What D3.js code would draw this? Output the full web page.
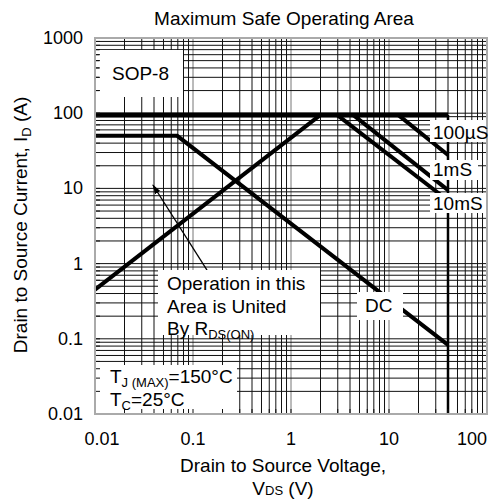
<!DOCTYPE html>
<html>
<head>
<meta charset="utf-8">
<script src="https://cdn.jsdelivr.net/npm/d3@7"></script>
<style>
body{margin:0;background:#fff;}
text{font-family:"Liberation Sans",Arial,sans-serif;fill:#000;}
</style>
</head>
<body>
<div id="chart"></div>
<script>
// tick values
let xTicks=[0.01,0.1,1,10,100];
let yTicks=[0.01,0.1,1,10,100,1000];

// limit curves (V, A)
let topV=[0.01,40];
let topI=[95,95];
let vmaxV=[40,40];
let vmaxI=[95,0.01];
let dcV=[0.01,0.069,40];
let dcI=[50,50,0.083];
let rdsV=[0.01,2.0];
let rdsI=[0.45,95];
let us100V=[12.4,40];
let us100I=[95,27.8];
let ms1V=[4.3,40];
let ms1I=[95,9.5];
let ms10V=[2.95,40];
let ms10I=[95,6.9];

// arrow: tail then head
let arrowV=[0.139,0.039];
let arrowI=[0.82,11.1];

let width=497, height=501;
let padL=95, padT=38, pw=392, ph=376;

let svg=d3.select("#chart").append("svg")
  .attr("width",width).attr("height",height);

let x=d3.scaleLog().domain([0.01,100]).range([0,pw]);
let y=d3.scaleLog().domain([0.01,1000]).range([ph,0]);

let g=svg.append("g").attr("transform","translate("+padL+","+padT+")");

// grid, 1..9 in every decade
let gx=[], gy=[];
for(let d=-2;d<2;d++) for(let k=1;k<10;k++) gx.push(k*Math.pow(10,d));
for(let d=-2;d<3;d++) for(let k=1;k<10;k++) gy.push(k*Math.pow(10,d));

g.selectAll(".vg").data(gx).enter().append("line")
  .attr("x1",d=>x(d)).attr("x2",d=>x(d))
  .attr("y1",0).attr("y2",ph)
  .attr("stroke",(d,i)=>i%9==0?"#777":"#111").attr("stroke-width",1);
g.selectAll(".hg").data(gy).enter().append("line")
  .attr("y1",d=>y(d)).attr("y2",d=>y(d))
  .attr("x1",0).attr("x2",pw)
  .attr("stroke","#111").attr("stroke-width",1);

let line=d3.line().x(d=>x(d[0])).y(d=>y(d[1]));
function curve(vs,is,w){
  g.append("path").datum(vs.map((v,i)=>[v,is[i]]))
    .attr("d",line).attr("fill","none")
    .attr("stroke","#000").attr("stroke-width",w);
}
curve(vmaxV,vmaxI,2.5);
curve(topV,topI,5);
curve(dcV,dcI,4);
curve(rdsV,rdsI,4);
curve(us100V,us100I,4);
curve(ms1V,ms1I,4);
curve(ms10V,ms10I,4);

// arrow
svg.append("defs").append("marker")
  .attr("id","ah").attr("viewBox","0 0 10 10")
  .attr("refX",9).attr("refY",5)
  .attr("markerWidth",10).attr("markerHeight",10)
  .attr("markerUnits","userSpaceOnUse")
  .attr("orient","auto")
  .append("path").attr("d","M0,2 L10,5 L0,8 Z").attr("fill","#000");
g.append("line")
  .attr("x1",x(arrowV[0])).attr("y1",y(arrowI[0]))
  .attr("x2",x(arrowV[1])).attr("y2",y(arrowI[1]))
  .attr("stroke","#000").attr("stroke-width",1.3)
  .attr("marker-end","url(#ah)");

// white label boxes (plot coords)
let boxes=[[4,12,84,47],[63,232,162,65],[262,254,46,28],[-1,327,143,50],
  [335,82,60,22],[335,122,48,20],[335,155,60,20]];
g.selectAll(".box").data(boxes).enter().append("rect")
  .attr("x",d=>d[0]).attr("y",d=>d[1])
  .attr("width",d=>d[2]).attr("height",d=>d[3])
  .attr("fill","#fff");

// small inner ticks on left and bottom
g.selectAll(".tb").data(gx).enter().append("line")
  .attr("x1",d=>x(d)).attr("x2",d=>x(d))
  .attr("y1",ph).attr("y2",ph-5)
  .attr("stroke","#111");
g.selectAll(".tl").data(gy).enter().append("line")
  .attr("y1",d=>y(d)).attr("y2",d=>y(d))
  .attr("x1",0).attr("x2",5)
  .attr("stroke","#111");

// frame
g.append("rect").attr("width",pw).attr("height",ph)
  .attr("fill","none").attr("stroke","#aaa").attr("stroke-width",2);

// labels inside plot
function lbl(t,px,py){
  return g.append("text").attr("x",px).attr("y",py)
    .style("font-size","19px").text(t);
}
lbl("SOP-8",17,42);
lbl("Operation in this",72,252);
lbl("Area is United",72,275);
let r=lbl("By R",72,297);
r.append("tspan").attr("dy",4).style("font-size","13px").text("DS(ON)");
lbl("DC",270,274);
let tj=lbl("T",15,345);
tj.append("tspan").attr("dy",4).style("font-size","13px").text("J (MAX)");
tj.append("tspan").attr("dy",-4).text("=150°C");
let tc=lbl("T",15,368);
tc.append("tspan").attr("dy",4).style("font-size","13px").text("C");
tc.append("tspan").attr("dy",-4).text("=25°C");
lbl("100µS",338,101);
lbl("1mS",338,138);
lbl("10mS",338,172);

// tick labels
g.selectAll(".xl").data(xTicks).enter().append("text")
  .attr("x",(d,i)=>x(d)+(i==0?7:0)).attr("y",ph+31)
  .attr("text-anchor",(d,i)=>i==xTicks.length-1?"end":"middle")
  .style("font-size","18px")
  .text(d=>d);
g.selectAll(".yl").data(yTicks).enter().append("text")
  .attr("x",-12).attr("y",d=>y(d)+6)
  .attr("text-anchor","end")
  .style("font-size","18px")
  .text(d=>d);

// titles
svg.append("text").attr("x",284).attr("y",25)
  .attr("text-anchor","middle").style("font-size","19px")
  .text("Maximum Safe Operating Area");
svg.append("text").attr("x",283).attr("y",472)
  .attr("text-anchor","middle").style("font-size","19px")
  .text("Drain to Source Voltage,");
let xt=svg.append("text").attr("x",283).attr("y",495)
  .attr("text-anchor","middle").style("font-size","19px");
xt.append("tspan").text("V");
xt.append("tspan").style("font-size","13px").text("DS");
xt.append("tspan").text(" (V)");
let yt=svg.append("text").attr("transform","translate(27,225) rotate(-90)")
  .attr("text-anchor","middle").style("font-size","19px");
yt.append("tspan").text("Drain to Source Current, I");
yt.append("tspan").attr("dy",4).style("font-size","13px").text("D");
yt.append("tspan").attr("dy",-4).text(" (A)");
</script>
</body>
</html>
